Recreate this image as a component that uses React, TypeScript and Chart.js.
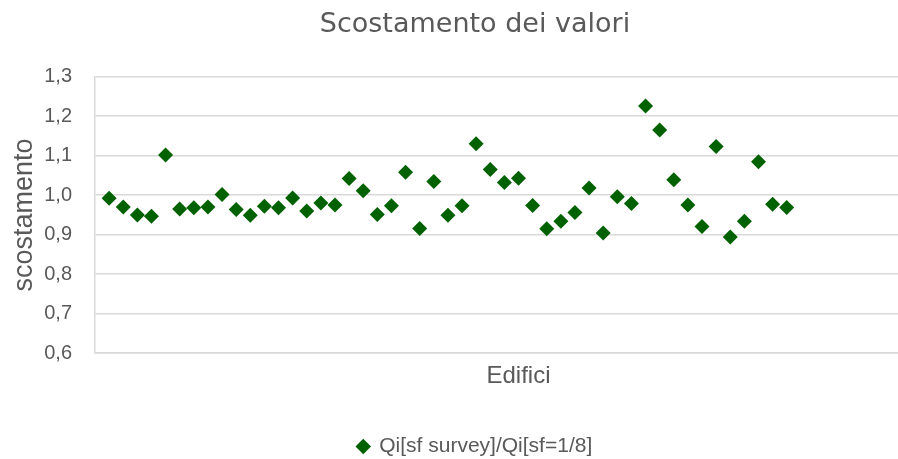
import { useEffect, useRef } from 'react';
import { Chart, registerables } from 'chart.js';

Chart.register(...registerables);

const chartTitle = 'Scostamento dei valori';
const seriesLabel = 'Qi[sf survey]/Qi[sf=1/8]';
const xAxisTitle = 'Edifici';
const yAxisTitle = 'scostamento';

const buildings = [
  1, 2, 3, 4, 5, 6, 7, 8, 9, 10,
  11, 12, 13, 14, 15, 16, 17, 18, 19, 20,
  21, 22, 23, 24, 25, 26, 27, 28, 29, 30,
  31, 32, 33, 34, 35, 36, 37, 38, 39, 40,
  41, 42, 43, 44, 45, 46, 47, 48, 49,
];

const deviation = [
  0.992, 0.970, 0.950, 0.947, 1.102, 0.965, 0.968, 0.970, 1.002, 0.964,
  0.949, 0.972, 0.968, 0.993, 0.960, 0.980, 0.975, 1.042, 1.011, 0.951,
  0.973, 1.058, 0.916, 1.035, 0.949, 0.973, 1.130, 1.065, 1.032, 1.043,
  0.974, 0.915, 0.934, 0.956, 1.018, 0.904, 0.996, 0.979, 1.226, 1.165,
  1.039, 0.975, 0.921, 1.123, 0.894, 0.934, 1.085, 0.977, 0.969,
];

const yMin = 0.6;
const yMax = 1.3;
const yStep = 0.1;
const xMin = 0;
const xMax = 60;

const TEXT = '#595959';
const GRID = '#d9d9d9';
const GREEN = '#006100';

export default function App() {
  const ref = useRef<HTMLCanvasElement | null>(null);

  useEffect(() => {
    if (!ref.current) return;
    const chart = new Chart(ref.current, {
      type: 'scatter',
      data: {
        datasets: [
          {
            label: seriesLabel,
            data: buildings.map((x, i) => ({ x, y: deviation[i] })),
            pointStyle: 'rectRot',
            pointRadius: 7.5,
            pointHoverRadius: 7.5,
            backgroundColor: GREEN,
            borderColor: GREEN,
            borderWidth: 0,
          },
        ],
      },
      options: {
        animation: false,
        responsive: false,
        devicePixelRatio: 1,
        layout: { padding: 0, autoPadding: false },
        plugins: {
          title: {
            display: true,
            text: chartTitle,
            color: TEXT,
            font: { family: 'DejaVu Sans', size: 27, weight: 'normal', lineHeight: 1.1 },
            padding: { top: 2, bottom: 37 },
          },
          legend: {
            display: true,
            position: 'bottom',
            labels: {
              usePointStyle: true,
              pointStyle: 'rectRot',
              boxWidth: 11,
              boxHeight: 11,
              color: TEXT,
              font: { family: 'Liberation Sans', size: 21 },
              padding: 10,
            },
          },
          tooltip: { enabled: false },
        },
        scales: {
          x: {
            type: 'linear',
            min: xMin,
            max: xMax,
            ticks: { display: false },
            grid: { display: false, drawTicks: false },
            border: { display: true, color: GRID, width: 1.5 },
            title: {
              display: true,
              text: xAxisTitle,
              color: TEXT,
              font: { family: 'Liberation Sans', size: 24 },
              padding: { top: 9, bottom: 35 },
            },
          },
          y: {
            min: yMin,
            max: yMax,
            ticks: {
              stepSize: yStep,
              padding: 23,
              color: TEXT,
              font: { family: 'Liberation Sans', size: 20 },
              callback: (v: any) => Number(v).toFixed(1).replace('.', ','),
            },
            grid: { color: GRID, lineWidth: 1.5, drawTicks: false },
            border: { display: true, color: GRID, width: 1.5 },
            title: {
              display: true,
              text: yAxisTitle,
              color: TEXT,
              font: { family: 'Liberation Sans', size: 27 },
              padding: { top: 0, bottom: 0 },
            },
            afterFit: (s: any) => {
              s.width = 87;
            },
          },
        },
      },
    } as any);
    return () => chart.destroy();
  }, []);

  return (
    <div
      style={{
        position: 'fixed',
        left: 0,
        top: 0,
        width: 898,
        height: 459,
        overflow: 'hidden',
        background: '#fff',
      }}
    >
      <canvas
        ref={ref}
        width={934}
        height={459}
        style={{ position: 'absolute', left: 8, top: 8, display: 'block' }}
      />
    </div>
  );
}
